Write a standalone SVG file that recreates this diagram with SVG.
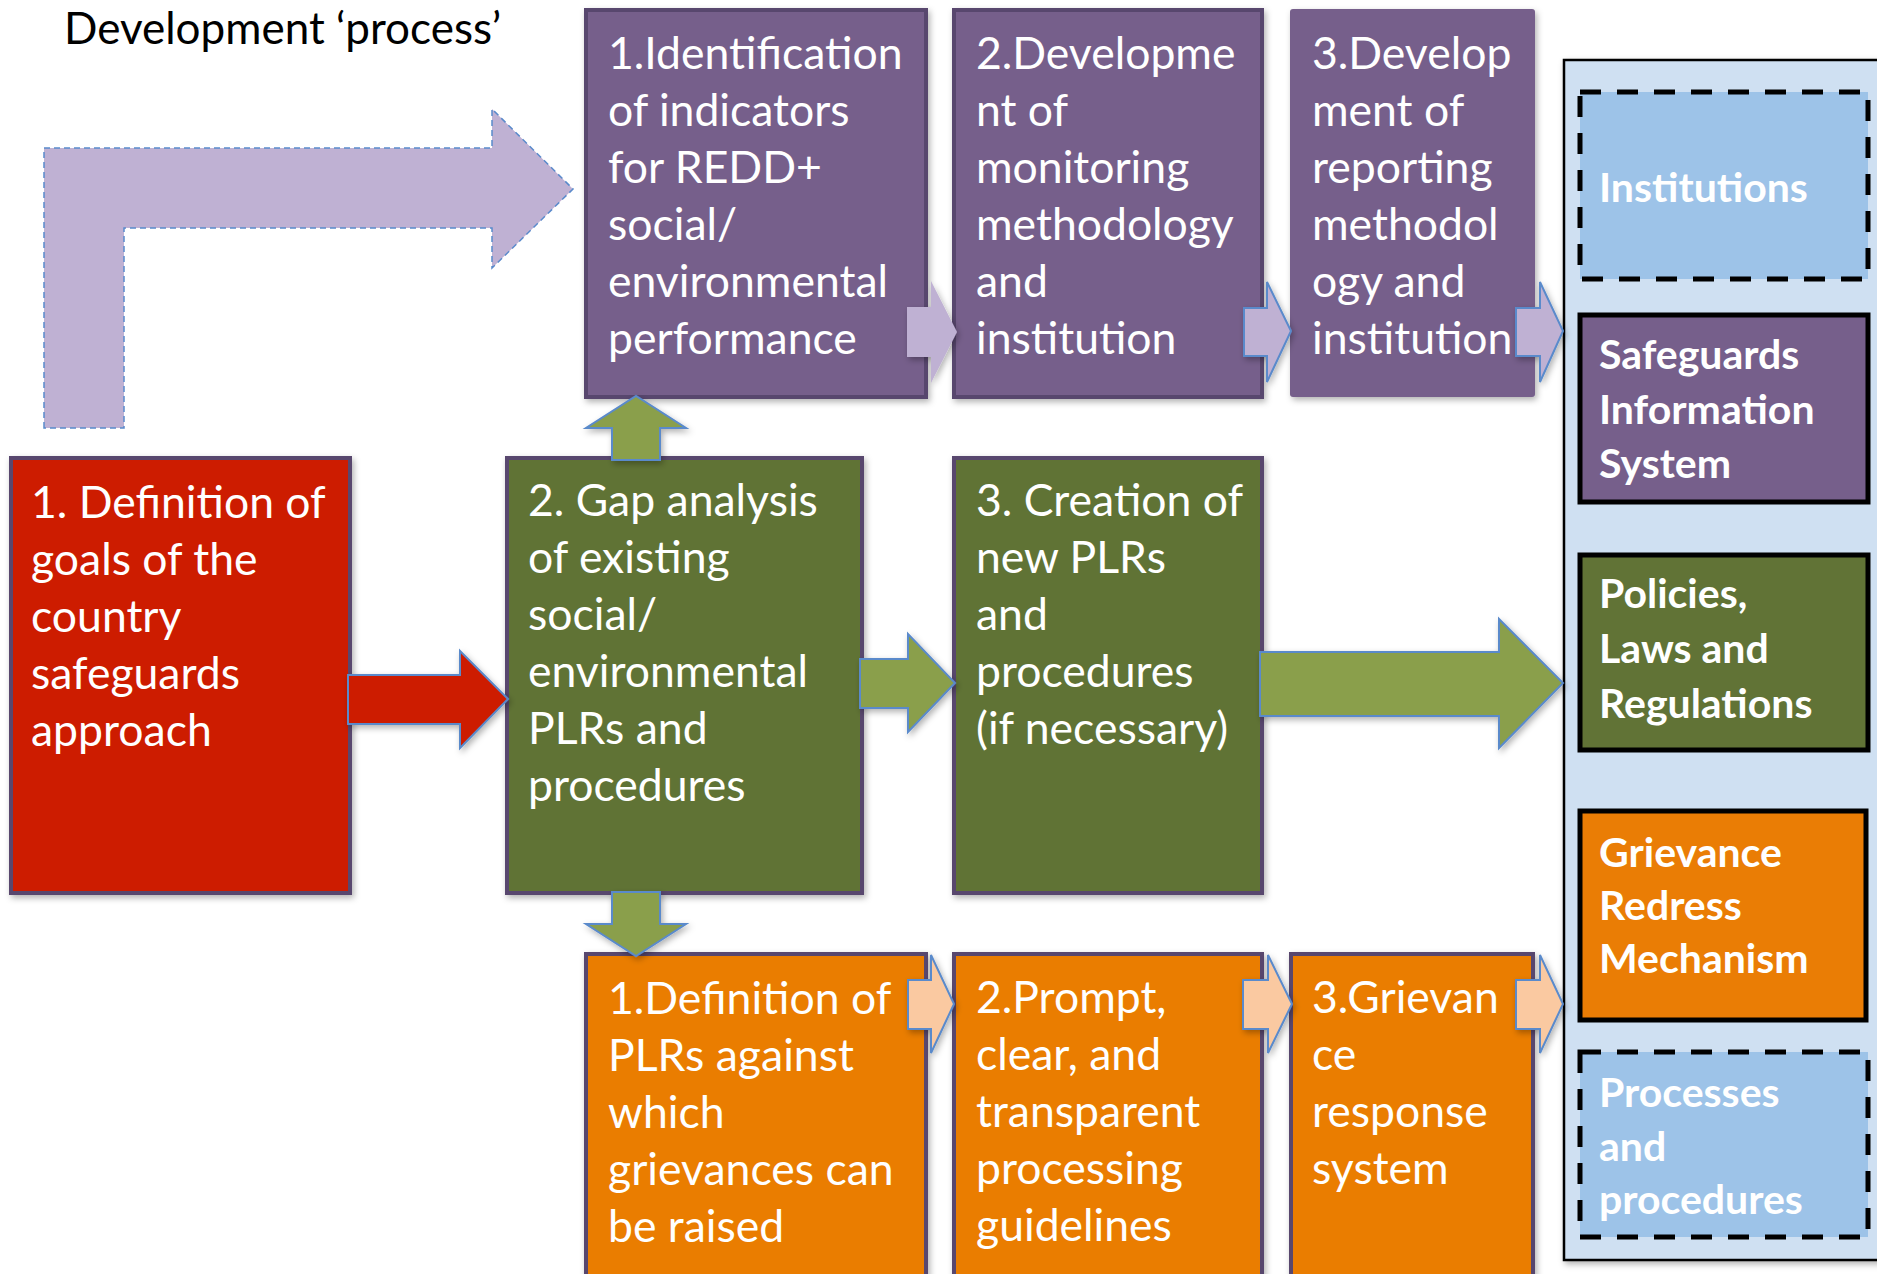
<svg xmlns="http://www.w3.org/2000/svg" width="1877" height="1274" viewBox="0 0 1877 1274">
<defs>
<filter id="sh" x="-20%" y="-20%" width="140%" height="140%">
<feDropShadow dx="2" dy="3" stdDeviation="3" flood-color="#000" flood-opacity="0.3"/>
</filter>
<style>
.t{font-family:Lato,"Open Sans","Liberation Sans",sans-serif;font-size:44.5px;fill:#fff}
.b{font-family:Lato,"Open Sans","Liberation Sans",sans-serif;font-size:41px;font-weight:bold;fill:#fff}
.purple{fill:#765F8B;stroke:#59476E;stroke-width:4}
.green{fill:#617336;stroke:#59476E;stroke-width:4}
.red{fill:#CD1E00;stroke:#59476E;stroke-width:4}
.orange{fill:#EA7D05;stroke:#59476E;stroke-width:4}
.arrG{fill:#8A9F4C;stroke:#5A8ACB;stroke-width:2}
.arrR{fill:#CD1E00;stroke:#5A8ACB;stroke-width:2}
.arrL{fill:#BFB1D3;stroke:#5A8ACB;stroke-width:2}
.arrP{fill:#FAC9A1;stroke:#5A8ACB;stroke-width:2}
.dash{fill:#9DC3E8;stroke:#000;stroke-width:5;stroke-dasharray:21 16}
.solid{stroke:#000;stroke-width:5}
</style>
</defs>
<rect width="1877" height="1274" fill="#fff"/>

<text x="64" y="44" font-family="Lato,'Open Sans','Liberation Sans',sans-serif" font-size="44" fill="#000">Development ‘process’</text>

<g id="connectors">
<path d="M44,428 L44,148 L492,148 L492,109 L573,189 L492,268 L492,228 L124,228 L124,428 Z" fill="#BFB1D3" stroke="#5A8ACB" stroke-width="1.5" stroke-dasharray="6 4"/>
</g>

<g id="n-red"><rect class="red" x="11" y="458" width="339" height="435" filter="url(#sh)"/>
<text class="t"><tspan x="31" y="518">1. Definition of</tspan><tspan x="31" y="575">goals of the</tspan><tspan x="31" y="632">country</tspan><tspan x="31" y="689">safeguards</tspan><tspan x="31" y="746">approach</tspan></text></g>

<g id="n-gap"><rect class="green" x="507" y="458" width="355" height="435" filter="url(#sh)"/>
<text class="t"><tspan x="528" y="516">2. Gap analysis</tspan><tspan x="528" y="573">of existing</tspan><tspan x="528" y="630">social/</tspan><tspan x="528" y="687">environmental</tspan><tspan x="528" y="744">PLRs and</tspan><tspan x="528" y="801">procedures</tspan></text></g>

<g id="n-creation"><rect class="green" x="954" y="458" width="308" height="435" filter="url(#sh)"/>
<text class="t"><tspan x="976" y="516">3. Creation of</tspan><tspan x="976" y="573">new PLRs</tspan><tspan x="976" y="630">and</tspan><tspan x="976" y="687">procedures</tspan><tspan x="976" y="744">(if necessary)</tspan></text></g>

<g id="n-p1"><rect class="purple" x="586" y="10" width="340" height="387" filter="url(#sh)"/>
<text class="t"><tspan x="608" y="69">1.Identification</tspan><tspan x="608" y="126">of indicators</tspan><tspan x="608" y="183">for REDD+</tspan><tspan x="608" y="240">social/</tspan><tspan x="608" y="297">environmental</tspan><tspan x="608" y="354">performance</tspan></text></g>

<g id="n-p2"><rect class="purple" x="954" y="10" width="308" height="387" filter="url(#sh)"/>
<text class="t"><tspan x="976" y="69">2.Developme</tspan><tspan x="976" y="126">nt of</tspan><tspan x="976" y="183">monitoring</tspan><tspan x="976" y="240">methodology</tspan><tspan x="976" y="297">and</tspan><tspan x="976" y="354">institution</tspan></text></g>

<g id="n-p3"><rect x="1290" y="9" width="245" height="388" rx="3" fill="#765F8B" filter="url(#sh)"/>
<text class="t"><tspan x="1312" y="69">3.Develop</tspan><tspan x="1312" y="126">ment of</tspan><tspan x="1312" y="183">reporting</tspan><tspan x="1312" y="240">methodol</tspan><tspan x="1312" y="297">ogy and</tspan><tspan x="1312" y="354">institution</tspan></text></g>

<g id="n-o1"><rect class="orange" x="586" y="954" width="340" height="340" filter="url(#sh)"/>
<text class="t"><tspan x="608" y="1014">1.Definition of</tspan><tspan x="608" y="1071">PLRs against</tspan><tspan x="608" y="1128">which</tspan><tspan x="608" y="1185">grievances can</tspan><tspan x="608" y="1242">be raised</tspan></text></g>

<g id="n-o2"><rect class="orange" x="954" y="954" width="308" height="340" filter="url(#sh)"/>
<text class="t"><tspan x="976" y="1013">2.Prompt,</tspan><tspan x="976" y="1070">clear, and</tspan><tspan x="976" y="1127">transparent</tspan><tspan x="976" y="1184">processing</tspan><tspan x="976" y="1241">guidelines</tspan></text></g>

<g id="n-o3"><rect class="orange" x="1291" y="954" width="242" height="340" filter="url(#sh)"/>
<text class="t"><tspan x="1312" y="1013">3.Grievan</tspan><tspan x="1312" y="1070">ce</tspan><tspan x="1312" y="1127">response</tspan><tspan x="1312" y="1184">system</tspan></text></g>

<g id="n-panel"><rect x="1564" y="60" width="340" height="1200" fill="#CFE0F2" stroke="#000" stroke-width="2.5" filter="url(#sh)"/></g>

<g id="n-institutions"><rect class="dash" x="1580" y="92" width="288" height="187"/>
<text class="b" x="1599" y="202">Institutions</text></g>

<g id="n-sis"><rect class="solid" fill="#765F8B" x="1580" y="315" width="288" height="187"/>
<text class="b"><tspan x="1599" y="369">Safeguards</tspan><tspan x="1599" y="424">Information</tspan><tspan x="1599" y="478">System</tspan></text></g>

<g id="n-plr"><rect class="solid" fill="#617336" x="1580" y="555" width="288" height="195"/>
<text class="b"><tspan x="1599" y="608">Policies,</tspan><tspan x="1599" y="663">Laws and</tspan><tspan x="1599" y="718">Regulations</tspan></text></g>

<g id="n-grm"><rect class="solid" fill="#EA7D05" x="1580" y="811" width="286" height="209"/>
<text class="b"><tspan x="1599" y="867">Grievance</tspan><tspan x="1599" y="920">Redress</tspan><tspan x="1599" y="973">Mechanism</tspan></text></g>

<g id="n-processes"><rect class="dash" x="1580" y="1052" width="288" height="185"/>
<text class="b"><tspan x="1599" y="1107">Processes</tspan><tspan x="1599" y="1161">and</tspan><tspan x="1599" y="1214">procedures</tspan></text></g>

<g id="arrows" filter="url(#sh)">
<path class="arrR" d="M348,675 L460,675 L460,651 L508,699 L460,748 L460,724 L348,724 Z"/>
<path class="arrG" d="M860,659 L908,659 L908,634 L955,683 L908,732 L908,708 L860,708 Z"/>
<path class="arrG" d="M1260,652 L1499,652 L1499,619 L1563,683 L1499,748 L1499,716 L1260,716 Z"/>
<path class="arrG" d="M612,460 L612,428 L586,428 L636,396 L686,428 L660,428 L660,460 Z"/>
<path class="arrG" d="M612,892 L660,892 L660,924 L686,924 L636,956 L586,924 L612,924 Z"/>
<path fill="#BFB1D3" d="M907,307 L931,307 L931,281 L957,332 L931,383 L931,357 L907,357 Z"/>
<path class="arrL" d="M1244,308 L1267,308 L1267,282 L1291,331 L1267,382 L1267,356 L1244,356 Z"/>
<path class="arrL" d="M1516,308 L1540,308 L1540,282 L1563,331 L1540,382 L1540,356 L1516,356 Z"/>
<path class="arrP" d="M908,980 L931,980 L931,955 L954,1004 L931,1053 L931,1029 L908,1029 Z"/>
<path class="arrP" d="M1243,980 L1268,980 L1268,955 L1292,1004 L1268,1053 L1268,1029 L1243,1029 Z"/>
<path class="arrP" d="M1516,980 L1540,980 L1540,955 L1563,1004 L1540,1053 L1540,1029 L1516,1029 Z"/>
</g>
</svg>
